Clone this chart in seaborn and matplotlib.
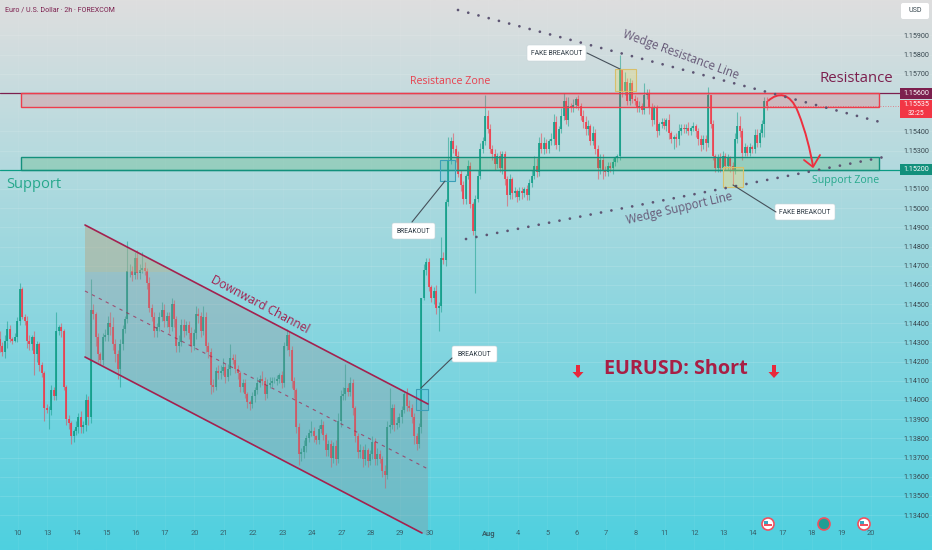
import numpy as np
import pandas as pd
import matplotlib
matplotlib.use('Agg')
import matplotlib.pyplot as plt
import seaborn as sns
from matplotlib.patches import Polygon, Rectangle, FancyBboxPatch, Circle, PathPatch
from matplotlib.path import Path

# 2h candles, prices in 1/10000 of a dollar
closes = [
    11428, 11425, 11431, 11437, 11432, 11431, 11433, 11441, 11458, 11443,
    11441, 11431, 11429, 11433, 11424, 11429, 11418, 11414, 11396, 11395,
    11395, 11405, 11402, 11436, 11438, 11436, 11407, 11390, 11388, 11381,
    11384, 11386, 11391, 11386, 11387, 11400, 11391, 11447, 11445, 11433,
    11424, 11421, 11433, 11434, 11440, 11438, 11429, 11424, 11416, 11429,
    11437, 11442, 11467, 11467, 11465, 11474, 11466, 11468, 11469, 11467,
    11461, 11448, 11443, 11436, 11438, 11443, 11447, 11441, 11444, 11438,
    11450, 11442, 11428, 11430, 11439, 11436, 11439, 11435, 11428, 11435,
    11445, 11444, 11436, 11443, 11428, 11425, 11408, 11407, 11415, 11414,
    11415, 11417, 11412, 11416, 11422, 11421, 11416, 11414, 11407, 11409,
    11403, 11399, 11398, 11402, 11405, 11409, 11411, 11410, 11403, 11408,
    11409, 11410, 11410, 11411, 11413, 11409, 11428, 11434, 11426, 11410,
    11405, 11386, 11372, 11373, 11376, 11380, 11383, 11384, 11381, 11379,
    11385, 11387, 11382, 11374, 11377, 11370, 11376, 11369, 11389, 11402,
    11403, 11406, 11404, 11409, 11396, 11381, 11373, 11374, 11369, 11374,
    11368, 11372, 11378, 11369, 11372, 11369, 11363, 11361, 11386, 11387,
    11396, 11387, 11388, 11391, 11395, 11403, 11397, 11396, 11391, 11381,
    11377, 11386, 11453, 11468, 11472, 11459, 11453, 11457, 11448, 11449,
    11474, 11473, 11503, 11525, 11535, 11531, 11527, 11518, 11512, 11505,
    11517, 11522, 11502, 11488, 11505, 11517, 11531, 11535, 11548, 11541,
    11531, 11528, 11523, 11527, 11521, 11528, 11515, 11507, 11515, 11508,
    11509, 11506, 11509, 11508, 11510, 11507, 11513, 11517, 11522, 11519,
    11534, 11531, 11534, 11531, 11535, 11536, 11545, 11533, 11541, 11548,
    11556, 11546, 11553, 11552, 11554, 11557, 11553, 11548, 11545, 11541,
    11543, 11535, 11539, 11531, 11521, 11525, 11520, 11519, 11522, 11521,
    11524, 11526, 11527, 11572, 11561, 11566, 11556, 11565, 11557, 11556,
    11552, 11553, 11551, 11559, 11560, 11552, 11546, 11552, 11540, 11544,
    11545, 11543, 11546, 11539, 11536, 11537, 11536, 11540, 11542, 11541,
    11542, 11540, 11542, 11543, 11540, 11536, 11533, 11536, 11534, 11559,
    11544, 11527, 11521, 11526, 11521, 11527, 11522, 11526, 11522, 11520,
    11536, 11543, 11540, 11529, 11532, 11529, 11532, 11531, 11538, 11534,
    11539, 11544, 11556, 11553,
]
first_open = 11432

# wick lengths above / below the candle body
wick_up = [
    4, 2, 3, 4, 2, 1, 2, 2, 3, 1, 2, 3, 3, 1, 3, 2, 1, 2, 1, 2,
    2, 3, 2, 10, 1, 2, 1, 1, 2, 1, 1, 3, 2, 3, 2, 3, 2, 16, 3, 1,
    2, 1, 2, 3, 4, 6, 5, 3, 2, 3, 2, 2, 16, 4, 3, 3, 4, 3, 8, 3,
    2, 3, 2, 3, 2, 3, 4, 3, 2, 2, 3, 2, 2, 4, 3, 3, 2, 2, 3, 2,
    4, 3, 2, 6, 3, 2, 2, 3, 2, 3, 3, 5, 2, 3, 7, 2, 3, 2, 1, 2,
    2, 1, 1, 2, 2, 3, 2, 4, 2, 3, 3, 2, 2, 2, 1, 2, 2, 3, 2, 2,
    2, 1, 2, 2, 3, 2, 2, 5, 2, 1, 2, 3, 2, 1, 2, 2, 2, 3, 4, 3,
    4, 13, 3, 3, 2, 1, 2, 3, 2, 3, 1, 2, 3, 2, 3, 2, 2, 3, 3, 19,
    2, 2, 3, 2, 2, 1, 3, 3, 2, 2, 2, 2, 0, 3, 2, 2, 1, 2, 3, 2,
    11, 3, 2, 12, 2, 4, 2, 3, 2, 2, 1, 3, 2, 1, 2, 3, 3, 2, 11, 3,
    3, 2, 3, 2, 3, 2, 2, 2, 3, 1, 2, 1, 2, 2, 1, 2, 2, 3, 5, 4,
    3, 5, 3, 2, 1, 3, 4, 3, 2, 4, 4, 2, 5, 2, 3, 1, 2, 2, 3, 3,
    3, 1, 4, 2, 2, 3, 3, 2, 2, 2, 2, 1, 1, 8, 0, 5, 2, 3, 2, 2,
    2, 3, 2, 6, 2, 2, 3, 2, 2, 1, 2, 2, 1, 3, 1, 1, 2, 4, 2, 2,
    2, 3, 1, 2, 1, 2, 2, 2, 2, 4, 0, 2, 1, 2, 3, 3, 2, 2, 1, 2,
    3, 7, 5, 2, 2, 1, 2, 1, 3, 3, 2, 2, 2, 2,
]
wick_down = [
    3, 2, 3, 4, 2, 2, 1, 3, 2, 1, 2, 4, 3, 3, 11, 4, 3, 2, 7, 2,
    10, 3, 2, 2, 2, 3, 2, 3, 3, 4, 3, 2, 3, 3, 3, 3, 4, 3, 3, 5,
    4, 2, 3, 2, 3, 4, 3, 4, 5, 9, 3, 2, 2, 3, 3, 2, 3, 3, 2, 2,
    3, 2, 2, 3, 3, 2, 2, 3, 3, 3, 2, 4, 3, 3, 2, 3, 2, 3, 3, 2,
    3, 4, 3, 2, 3, 3, 5, 3, 2, 3, 3, 2, 3, 2, 3, 2, 2, 3, 3, 3,
    2, 3, 3, 2, 3, 2, 2, 2, 3, 2, 2, 2, 1, 2, 2, 3, 2, 2, 3, 4,
    4, 3, 6, 4, 3, 3, 2, 2, 3, 2, 2, 2, 3, 3, 3, 5, 3, 3, 2, 3,
    2, 3, 2, 2, 4, 3, 3, 3, 4, 3, 3, 2, 3, 3, 3, 2, 3, 7, 2, 3,
    2, 3, 2, 2, 3, 2, 3, 2, 3, 4, 3, 2, 3, 1, 3, 2, 2, 3, 3, 12,
    3, 2, 3, 2, 2, 2, 3, 2, 3, 3, 3, 2, 2, 2, 32, 2, 2, 2, 2, 2,
    2, 3, 3, 2, 2, 3, 3, 6, 2, 3, 2, 3, 2, 3, 2, 3, 3, 2, 2, 3,
    2, 2, 3, 2, 2, 2, 3, 2, 3, 2, 2, 2, 3, 2, 2, 2, 2, 2, 3, 3,
    3, 2, 2, 3, 6, 3, 5, 2, 2, 2, 3, 2, 2, 2, 3, 2, 2, 2, 2, 2,
    2, 2, 2, 2, 2, 3, 3, 2, 3, 2, 2, 2, 3, 3, 2, 5, 4, 3, 2, 2,
    2, 2, 2, 2, 3, 3, 3, 2, 4, 2, 2, 2, 2, 2, 2, 2, 2, 2, 3, 8,
    2, 2, 3, 4, 2, 2, 2, 2, 2, 2, 2, 2, 7, 2,
]

# one day is 12 candles, empty string where the chart skips a label
day_labels = ['10', '13', '14', '15', '16', '17', '20', '21', '22', '23', '24',
              '27', '28', '29', '30', '', 'Aug', '4', '5', '6', '7', '8', '11',
              '12', '13', '14', '17', '18', '19', '20']
price_ticks = [1.159, 1.158, 1.157, 1.154, 1.153, 1.151, 1.150, 1.149, 1.148,
               1.147, 1.146, 1.145, 1.144, 1.143, 1.142, 1.141, 1.140, 1.139,
               1.138, 1.137, 1.136, 1.135, 1.134]
resistance_level = 1.156
support_level = 1.152
last_price = 1.15535

GREEN = '#0b9b84'
RED = '#f23645'
MAROON = '#7c1f4e'
DOT = '#5d5573'
FONT = 'Open Sans'
SMALL = 'Roboto'

sns.set_theme(style='white')
plt.rcParams['font.family'] = [FONT, 'DejaVu Sans']

# build candle table
close_arr = np.array(closes) / 10000
open_arr = np.r_[first_open / 10000, close_arr[:-1]]
top = np.maximum(open_arr, close_arr)
bottom = np.minimum(open_arr, close_arr)
idx = np.arange(len(closes))
side = np.where(close_arr >= open_arr, 'up', 'down')

wicks = pd.DataFrame({
    'i': np.r_[idx, idx],
    'price': np.r_[top + np.array(wick_up) / 10000, bottom - np.array(wick_down) / 10000],
    'side': np.r_[side, side],
})
bodies = pd.DataFrame({
    'i': np.r_[idx, idx],
    'price': np.r_[top, bottom],
    'side': np.r_[side, side],
})
colors = {'up': GREEN, 'down': RED}

fig = plt.figure(figsize=(9.32, 5.5), dpi=100)
ax = fig.add_axes([0, 0, 1, 1])

x_max = 932 / 2.45
y_lo, y_hi = 1.13218, 1.16085

# background gradient, grey on top to turquoise at the bottom
t = np.linspace(0, 1, 256)[:, None]
c_top = np.array([222, 222, 222]) / 255
c_bot = np.array([78, 208, 224]) / 255
grad = (c_top + (c_bot - c_top) * t)[:, None, :]
ax.imshow(grad, extent=(0, x_max, y_lo, y_hi), aspect='auto', origin='upper', zorder=0)

sns.lineplot(data=wicks, x='i', y='price', hue='side', units='i', estimator=None,
             palette=colors, linewidth=0.8, alpha=0.5, legend=False, ax=ax,
             solid_capstyle='butt', zorder=2)
sns.lineplot(data=bodies, x='i', y='price', hue='side', units='i', estimator=None,
             palette=colors, linewidth=1.15, legend=False, ax=ax,
             solid_capstyle='butt', zorder=3)

ax.set_xlim(0, x_max)
ax.set_ylim(y_lo, y_hi)
ax.set_xlabel('')
ax.set_ylabel('')
ax.set_xticks([7.35 + 12 * k for k in range(len(day_labels))])
ax.set_xticklabels(day_labels, family=SMALL)
ax.yaxis.tick_right()
ax.set_yticks(price_ticks)
ax.set_yticklabels(['%.5f' % p for p in price_ticks], family=SMALL)
ax.tick_params(axis='y', length=0, pad=-20.5, labelsize=5.1, labelcolor='#37474f')
ax.tick_params(axis='x', length=0, pad=-14.5, labelsize=5.4, labelcolor='#37606a')
for lab in ax.get_xticklabels():
    if lab.get_text() == 'Aug':
        lab.set_fontweight('bold')
ax.grid(axis='y', color='white', alpha=0.12, linewidth=0.7)
ax.grid(axis='x', color='white', alpha=0.05, linewidth=0.7)
for s in ax.spines.values():
    s.set_visible(False)

ax.axhline(resistance_level, color=MAROON, linewidth=0.9, zorder=4, xmax=902 / 932)
ax.axhline(support_level, color=GREEN, linewidth=0.9, zorder=4, xmax=902 / 932)
ax.plot([765 / 2.45, 900 / 2.45], [last_price, last_price], color=RED, linewidth=0.6,
        linestyle=(0, (1, 2)), alpha=0.7, zorder=4)

# drawings live on a pixel sized overlay
ov = fig.add_axes([0, 0, 1, 1], zorder=5)
ov.set_xlim(0, 932)
ov.set_ylim(550, 0)
ov.axis('off')
ov.patch.set_alpha(0)

# zones
ov.add_patch(Rectangle((21, 93), 858, 14, facecolor=RED, alpha=0.2, edgecolor='none'))
ov.add_patch(Rectangle((21, 93), 858, 14, fill=False, edgecolor='#ee3d4c', linewidth=1))
ov.add_patch(Rectangle((21, 156.5), 858, 13, facecolor='#3fae5f', alpha=0.24, edgecolor='none'))
ov.add_patch(Rectangle((21, 156.5), 858, 13, fill=False, edgecolor='#13907c', linewidth=1))

# downward channel
ov.add_patch(Polygon([(85, 225), (428, 404), (428, 536), (85, 357)], facecolor='#9a8f93',
                     alpha=0.3, edgecolor='none'))
ov.add_patch(Polygon([(85, 225), (175, 272), (85, 272)], facecolor='#c8c08a', alpha=0.3,
                     edgecolor='none'))
ov.plot([85, 428], [225, 404], color='#a3214f', linewidth=1.2)
ov.plot([85, 422], [357, 533], color='#a3214f', linewidth=1.2)
ov.plot([85, 428], [291, 469], color='#a3214f', linewidth=0.8, alpha=0.7, linestyle=(0, (3, 4)))

# wedge dots
ov.plot([458, 880], [10, 122], color=DOT, linewidth=2, linestyle=(0, (0.01, 3.8)),
        dash_capstyle='round')
ov.plot([466, 884], [239, 157], color=DOT, linewidth=2, linestyle=(0, (0.01, 3.8)),
        dash_capstyle='round')

# highlight boxes
for x, y, w, h, fc, ec, a in [(615, 69, 21, 22, '#f0d860', '#d8bf6a', 0.3),
                              (723, 167, 20, 20, '#f0d860', '#d8bf6a', 0.3),
                              (440, 160, 15, 21, '#39b4d8', '#3a9fb8', 0.2),
                              (416, 389, 12, 21, '#39b4d8', '#3a9fb8', 0.2)]:
    ov.add_patch(Rectangle((x, y), w, h, facecolor=fc, alpha=a, edgecolor='none'))
    ov.add_patch(Rectangle((x, y), w, h, fill=False, edgecolor=ec, linewidth=0.8))

# connectors and white callouts
for x0, y0, x1, y1 in [(587, 53, 620, 69), (412, 222, 445, 181),
                       (452, 358, 421, 388), (733, 185, 776, 212)]:
    ov.plot([x0, x1], [y0, y1], color='#46505a', linewidth=0.8)
for x, y, w, label in [(527, 45, 59, 'FAKE BREAKOUT'), (392, 223, 43, 'BREAKOUT'),
                       (452, 346, 45, 'BREAKOUT'), (775, 204, 60, 'FAKE BREAKOUT')]:
    ov.add_patch(FancyBboxPatch((x, y), w, 16, boxstyle='round,pad=0,rounding_size=2',
                                facecolor='white', edgecolor='#c8d4d8', linewidth=0.4))
    ov.text(x + w / 2, y + 8.3, label, fontsize=4.9, color='#2e3a44', ha='center', va='center',
            family=SMALL)

# projected move
curve = Path([(768, 101), (778, 92), (790, 92), (798, 112), (806, 132), (810, 150), (813, 166)],
             [Path.MOVETO, Path.CURVE4, Path.CURVE4, Path.CURVE4, Path.CURVE4, Path.CURVE4, Path.CURVE4])
ov.add_patch(PathPatch(curve, fill=False, edgecolor='#ee2f3f', linewidth=1.4))
ov.plot([804, 813, 820], [160, 167, 155], color='#ee2f3f', linewidth=1.3)

# down arrows next to the headline
for x in (578, 774):
    ov.add_patch(Polygon([(x - 2, 365), (x + 2, 365), (x + 2, 372), (x + 5.5, 372), (x, 378),
                          (x - 5.5, 372), (x - 2, 372)], facecolor='#e8293b', edgecolor='none'))

# chart text
ov.text(5, 10, 'Euro / U.S. Dollar · 2h · FOREXCOM', fontsize=5.1, color=MAROON, va='center',
        family=SMALL)
ov.text(450, 82, 'Resistance Zone', fontsize=7.7, color='#e8404e', ha='center', va='center')
ov.text(6, 184, 'Support', fontsize=10.5, color='#26a88c', va='center')
ov.text(856, 78, 'Resistance', fontsize=10.7, color=MAROON, ha='center', va='center',
        fontweight='medium')
ov.text(846, 181, 'Support Zone', fontsize=7.6, color='#26a88c', ha='center', va='center')
ov.text(681, 55, 'Wedge Resistance Line', fontsize=8.3, color='#675a78', ha='center', va='center',
        rotation=-20, rotation_mode='anchor')
ov.text(679, 208, 'Wedge Support Line', fontsize=8.3, color='#675a78', ha='center', va='center',
        rotation=13, rotation_mode='anchor')
ov.text(260, 305, 'Downward Channel', fontsize=8.6, color='#a3214f', ha='center', va='center',
        rotation=-28, rotation_mode='anchor')
ov.text(676, 369, 'EURUSD: Short', fontsize=14.2, color='#a81f45', ha='center', va='center',
        fontweight='bold')

# price axis tags
ov.add_patch(FancyBboxPatch((901, 3), 28, 16, boxstyle='round,pad=0,rounding_size=2',
                            facecolor='white', edgecolor='none'))
ov.text(915, 11, 'USD', fontsize=5.1, color='#37474f', ha='center', va='center', family=SMALL)
ov.add_patch(Rectangle((900, 87.5), 32, 11, facecolor=MAROON, edgecolor='none'))
ov.text(916, 93.3, '%.5f' % resistance_level, fontsize=5.1, color='white', ha='center', va='center',
        family=SMALL)
ov.add_patch(Rectangle((900, 100), 32, 18, facecolor=RED, edgecolor='none'))
ov.text(916, 105, '%.5f' % last_price, fontsize=5.1, color='white', ha='center', va='center',
        family=SMALL)
ov.text(916, 113.5, '32:25', fontsize=4.8, color='white', ha='center', va='center', family=SMALL)
ov.add_patch(Rectangle((900, 164), 32, 11, facecolor='#12907c', edgecolor='none'))
ov.text(916, 169.8, '%.5f' % support_level, fontsize=5.1, color='white', ha='center', va='center',
        family=SMALL)

# calendar event markers
for x, fc in [(768, 'white'), (824, '#1f9e94'), (864, 'white')]:
    ov.add_patch(Circle((x, 524), 6, facecolor=fc, edgecolor='#f0505f', linewidth=1.2))
    if fc == 'white':
        ov.add_patch(Rectangle((x - 4, 524), 8, 1.5, facecolor='#f0505f', edgecolor='none'))
        ov.add_patch(Rectangle((x - 4, 521), 4, 3, facecolor='#3aa6c0', edgecolor='none'))

fig.savefig('out.png', dpi=100)
